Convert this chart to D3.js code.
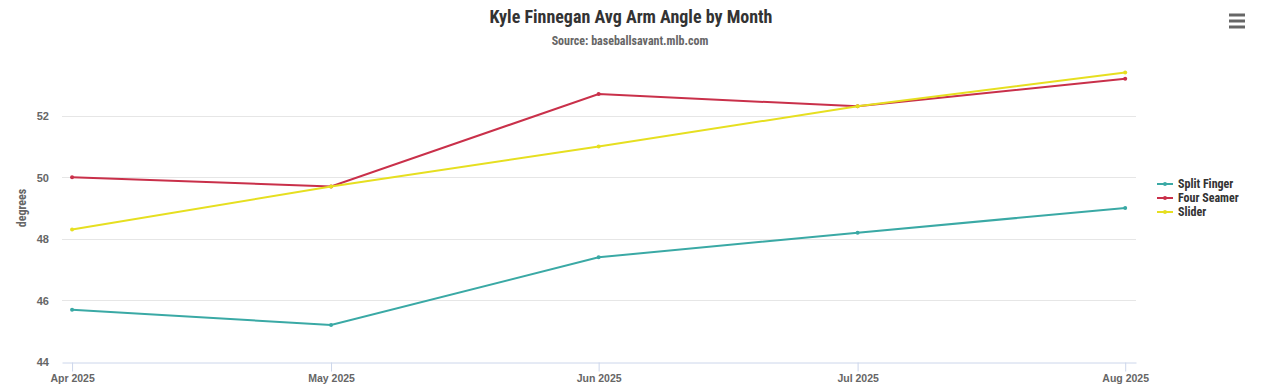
<!DOCTYPE html>
<html><head><meta charset="utf-8">
<script src="https://cdn.jsdelivr.net/npm/d3@7"></script>
<style>
body{margin:0;background:#fff;}
svg{display:block;font-family:"Roboto Condensed","Liberation Sans Narrow","DejaVu Sans Condensed",sans-serif;font-weight:bold;}
</style></head>
<body><svg id="c" width="1264" height="391"></svg>
<script>
const months = ["2025-04-01","2025-05-01","2025-06-01","2025-07-01","2025-08-01"];
const monthLabels = ["Apr 2025","May 2025","Jun 2025","Jul 2025","Aug 2025"];
const seriesNames = ["Split Finger","Four Seamer","Slider"];
const splitFinger = [45.7,45.2,47.4,48.2,49.0];
const fourSeamer = [50.0,49.7,52.7,52.3,53.2];
const slider = [48.3,49.7,51.0,52.3,53.4];
const yTicks = [44,46,48,50,52];
const colors = ["#3aa9a5","#c9304a","#e6df20"];

const svg = d3.select("#c");
const parse = d3.utcParse("%Y-%m-%d");
const dates = months.map(parse);
const L=62,R=1136,T=54,B=362;
const x = d3.scaleUtc().domain([d3.utcHour.offset(dates[0],-28), d3.utcHour.offset(dates[4],30)]).range([L,R]);
const y = d3.scaleLinear().domain([44,54]).range([B,T]);

svg.append("text").attr("x",631).attr("y",23).attr("text-anchor","middle").attr("font-size",18).attr("fill","#333").text("Kyle Finnegan Avg Arm Angle by Month");
svg.append("text").attr("x",630).attr("y",45).attr("text-anchor","middle").attr("font-size",12).attr("fill","#666").text("Source: baseballsavant.mlb.com");

// gridlines
svg.append("g").selectAll("line").data(yTicks.slice(1)).join("line")
  .attr("x1",L).attr("x2",R).attr("y1",d=>Math.round(y(d))+0.5).attr("y2",d=>Math.round(y(d))+0.5)
  .attr("stroke","#e6e6e6");
// x axis
const xa = svg.append("g").attr("transform",`translate(0,${Math.round(B)+0.5})`)
  .call(d3.axisBottom(x).tickValues(dates).tickFormat((d,i)=>monthLabels[i]).tickSize(9).tickSizeOuter(0));
xa.select(".domain").attr("stroke","#ccd6eb");
xa.selectAll(".tick line").attr("stroke","#ccd6eb");
xa.selectAll("text").attr("fill","#666").attr("font-size",10.5).attr("font-family",null).attr("dy","0.9em").attr("y",10);
// y axis
const ya = svg.append("g").attr("transform",`translate(66,0)`)
  .call(d3.axisLeft(y).tickValues(yTicks).tickSize(0));
ya.select(".domain").remove();
ya.selectAll("text").attr("fill","#666").attr("font-size",11).attr("font-family",null).attr("x",-17).attr("dy","0.35em");
svg.append("text").attr("transform",`translate(26,${(T+B)/2}) rotate(-90)`).attr("text-anchor","middle")
  .attr("font-size",12).attr("fill","#666").text("degrees");

const all=[splitFinger,fourSeamer,slider];
const line = d3.line().x((d,i)=>x(dates[i])).y(d=>y(d));
all.forEach((s,k)=>{
  svg.append("path").datum(s).attr("d",line).attr("fill","none").attr("stroke",colors[k]).attr("stroke-width",2);
  svg.append("g").selectAll("circle").data(s).join("circle").attr("cx",(d,i)=>x(dates[i])).attr("cy",d=>y(d)).attr("r",2).attr("fill",colors[k]);
});

// legend
const lg = svg.append("g");
seriesNames.forEach((n,k)=>{
  const yy=184+k*14;
  lg.append("line").attr("x1",1157).attr("x2",1173).attr("y1",yy).attr("y2",yy).attr("stroke",colors[k]).attr("stroke-width",2);
  lg.append("circle").attr("cx",1165).attr("cy",yy).attr("r",2).attr("fill",colors[k]);
  lg.append("text").attr("x",1178).attr("y",yy+4).attr("font-size",12).attr("fill","#333").text(n);
});
// menu icon
[15,21,27].forEach(v=>svg.append("line").attr("x1",1229).attr("x2",1245).attr("y1",v).attr("y2",v).attr("stroke","#666").attr("stroke-width",3));
</script></body></html>
